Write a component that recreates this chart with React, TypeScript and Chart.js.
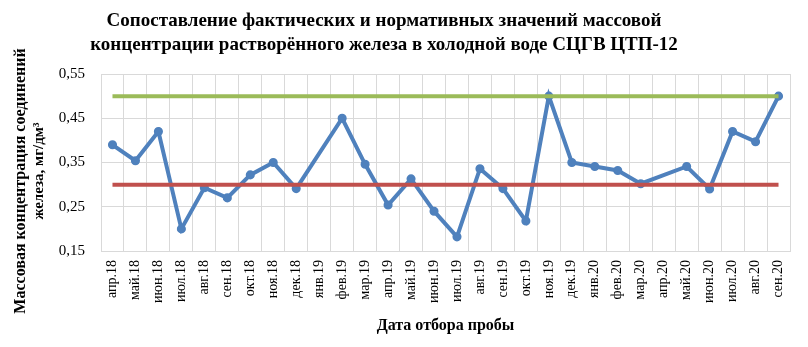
import React, { useEffect, useRef } from "react";
import { Chart, registerables } from "chart.js";

Chart.register(...registerables);

const categories = [
  "апр.18", "май.18", "июн.18", "июл.18", "авг.18", "сен.18", "окт.18", "ноя.18", "дек.18",
  "янв.19", "фев.19", "мар.19", "апр.19", "май.19", "июн.19", "июл.19", "авг.19", "сен.19",
  "окт.19", "ноя.19", "дек.19", "янв.20", "фев.20", "мар.20", "апр.20", "май.20", "июн.20",
  "июл.20", "авг.20", "сен.20",
];

const actualValues: (number | null)[] = [
  0.39, 0.354, 0.42, 0.2, 0.293, 0.27, 0.322, 0.35, 0.291,
  null, 0.45, 0.346, 0.254, 0.313, 0.24, 0.182, 0.336, 0.291,
  0.218, 0.5, 0.35, 0.341, 0.332, 0.302, null, 0.341, 0.29,
  0.42, 0.397, 0.5,
];

const normLow = 0.3;
const normHigh = 0.5;
const lowValues = categories.map(() => normLow);
const highValues = categories.map(() => normHigh);

const yTicks = [0.15, 0.25, 0.35, 0.45, 0.55];

const titleLines = [
  "Сопоставление фактических и нормативных значений массовой",
  "концентрации растворённого железа в холодной воде СЦГВ ЦТП-12",
];
const yTitleLines = ["Массовая концентрация соединений", "железа, мг/дм³"];
const xTitle = "Дата отбора пробы";

const SERIF = "'Liberation Serif', 'Times New Roman', serif";

const textPlugin = {
  id: "textPlugin",
  afterDraw(chart: any) {
    const ctx = chart.ctx;
    const area = chart.chartArea;
    ctx.save();
    ctx.fillStyle = "#000";
    ctx.textAlign = "center";
    ctx.textBaseline = "middle";
    ctx.font = `bold 19px ${SERIF}`;
    ctx.fillText(titleLines[0], 384, 21);
    ctx.fillText(titleLines[1], 384, 45);

    ctx.font = `bold 16px ${SERIF}`;
    ctx.fillText(xTitle, (area.left + area.right) / 2, 326);

    ctx.save();
    ctx.translate(21, 181);
    ctx.rotate(-Math.PI / 2);
    ctx.font = `bold 16px ${SERIF}`;
    ctx.fillText(yTitleLines[0], 0, 0);
    ctx.restore();
    ctx.save();
    ctx.translate(39, 171);
    ctx.rotate(-Math.PI / 2);
    ctx.font = `bold 15px ${SERIF}`;
    ctx.fillText(yTitleLines[1], 0, 0);
    ctx.restore();
    ctx.restore();
  },
};

export default function App() {
  const canvasRef = useRef<HTMLCanvasElement | null>(null);

  useEffect(() => {
    const canvas = canvasRef.current;
    if (!canvas) return;
    const chart = new Chart(canvas, {
      type: "line",
      data: {
        labels: categories,
        datasets: [
          {
            label: "Фактическое значение",
            data: actualValues,
            borderColor: "#4F81BD",
            backgroundColor: "#4F81BD",
            borderWidth: 4,
            pointRadius: 3.8,
            pointBorderWidth: 1.5,
            pointBackgroundColor: "#4F81BD",
            pointBorderColor: "#4F81BD",
            spanGaps: true,
            tension: 0,
            order: 3,
          },
          {
            label: "Норматив",
            data: lowValues,
            borderColor: "#C0504D",
            backgroundColor: "#C0504D",
            borderWidth: 4,
            pointRadius: 0,
            order: 2,
          },
          {
            label: "Предел",
            data: highValues,
            borderColor: "#9BBB59",
            backgroundColor: "#9BBB59",
            borderWidth: 4,
            pointRadius: 0,
            order: 1,
          },
        ],
      },
      options: {
        responsive: false,
        animation: false,
        layout: { padding: { top: 74, right: 18, left: 0, bottom: 0 } },
        plugins: {
          legend: { display: false },
          title: { display: false },
          tooltip: { enabled: false },
        },
        scales: {
          x: {
            type: "category",
            offset: true,
            grid: { offset: true, color: "#d9d9d9", drawTicks: false },
            border: { color: "#d9d9d9" },
            ticks: {
              autoSkip: false,
              maxRotation: 90,
              minRotation: 90,
              padding: 9,
              color: "#000",
              font: { family: SERIF, size: 14 },
            },
            afterFit: (s: any) => {
              s.height = 96;
            },
          },
          y: {
            min: 0.15,
            max: 0.55,
            grid: { color: "#d9d9d9", drawTicks: false },
            border: { color: "#d9d9d9" },
            afterBuildTicks: (s: any) => {
              s.ticks = yTicks.map((v) => ({ value: v }));
            },
            ticks: {
              padding: 16,
              color: "#000",
              font: { family: SERIF, size: 15 },
              callback: (v: any) => Number(v).toFixed(2).replace(".", ","),
            },
            afterFit: (s: any) => {
              s.width = 101;
            },
          },
        },
      },
      plugins: [textPlugin],
    });
    return () => chart.destroy();
  }, []);

  return (
    <div style={{ position: "fixed", left: 0, top: 0, width: 808, height: 347, background: "#fff" }}>
      <canvas ref={canvasRef} width={808} height={347} />
    </div>
  );
}
